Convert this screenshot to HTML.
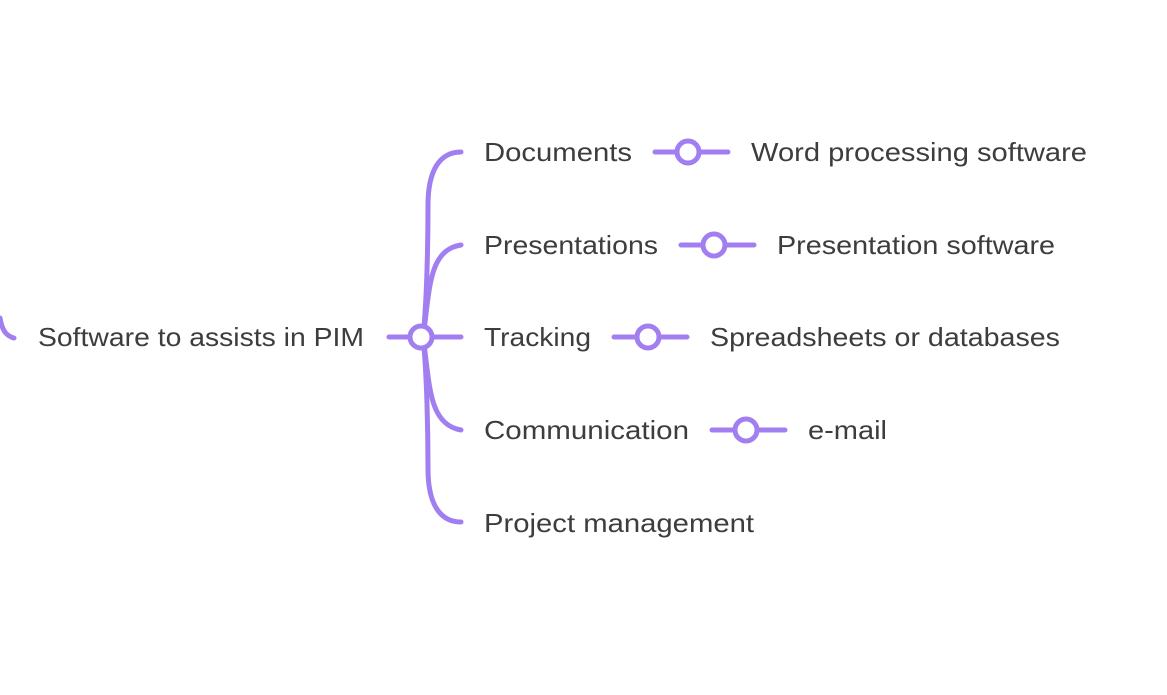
<!DOCTYPE html>
<html><head><style>html,body{margin:0;padding:0;background:#fff;}svg{display:block}</style></head>
<body>
<svg width="1167" height="695" viewBox="0 0 1167 695" xmlns="http://www.w3.org/2000/svg">
<g fill="none" stroke="#a27ff0" stroke-width="5" stroke-linecap="round">
<path d="M0,318 C2,330 6,336 14,338"/>
<path d="M389,337 L461,337"/>
<path d="M423,337 C427,300 428,240 428,205 C428,170 440,152 461,152"/>
<path d="M423,337 C430,290 428,250 461,245"/>
<path d="M423,337 C430,384 428,424 461,430"/>
<path d="M423,337 C427,374 428,434 428,469 C428,504 440,522 461,522"/>
<path d="M655,152 L728,152"/>
<path d="M681,245 L754,245"/>
<path d="M614,337 L687,337"/>
<path d="M712,430 L785,430"/>
</g>
<g fill="#fff" stroke="#a27ff0" stroke-width="5">
<circle cx="421" cy="337" r="11"/>
<circle cx="688" cy="152" r="11"/>
<circle cx="714" cy="245" r="11"/>
<circle cx="648" cy="337" r="11"/>
<circle cx="746" cy="430" r="11"/>
</g>
<g font-family="Liberation Sans, sans-serif" font-size="26" fill="#3d3d3d">
<text x="38" y="346" textLength="326" lengthAdjust="spacingAndGlyphs">Software to assists in PIM</text>
<text x="484" y="161" textLength="148" lengthAdjust="spacingAndGlyphs">Documents</text>
<text x="751" y="161" textLength="336" lengthAdjust="spacingAndGlyphs">Word processing software</text>
<text x="484" y="254" textLength="174" lengthAdjust="spacingAndGlyphs">Presentations</text>
<text x="777" y="254" textLength="278" lengthAdjust="spacingAndGlyphs">Presentation software</text>
<text x="484" y="346" textLength="107" lengthAdjust="spacingAndGlyphs">Tracking</text>
<text x="710" y="346" textLength="350" lengthAdjust="spacingAndGlyphs">Spreadsheets or databases</text>
<text x="484" y="439" textLength="205" lengthAdjust="spacingAndGlyphs">Communication</text>
<text x="808" y="439" textLength="79" lengthAdjust="spacingAndGlyphs">e-mail</text>
<text x="484" y="532" textLength="270" lengthAdjust="spacingAndGlyphs">Project management</text>
</g>
</svg>
</body></html>
